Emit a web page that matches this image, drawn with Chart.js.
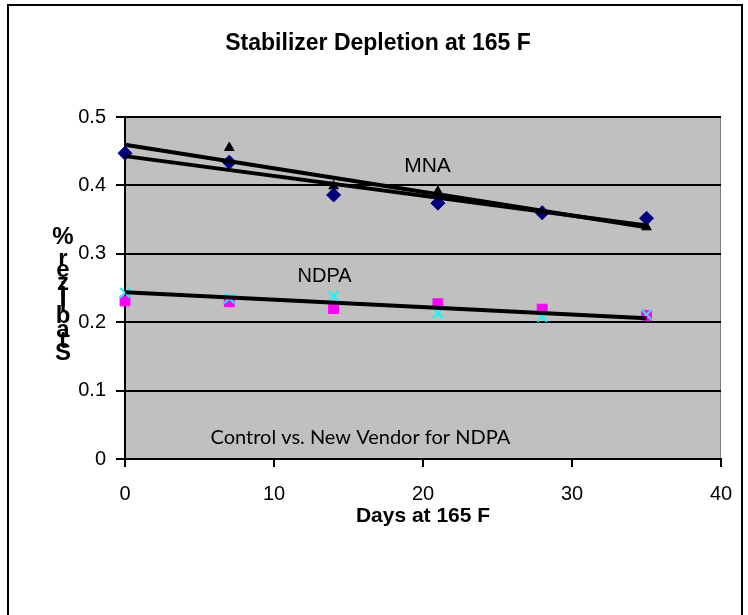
<!DOCTYPE html>
<html>
<head>
<meta charset="utf-8">
<title>Stabilizer Depletion at 165 F</title>
<script src="https://cdn.jsdelivr.net/npm/chart.js@4.4.0/dist/chart.umd.min.js"></script>
<style>
html, body { margin: 0; padding: 0; background: #fff; }
canvas { display: block; }
</style>
</head>
<body>
<canvas id="myChart" width="748" height="615"></canvas>
<script>
// Data
const days = [0, 7, 14, 21, 28, 35];
const mnaControl = [0.450, 0.455, 0.399, 0.391, 0.361, 0.339];   // black triangles
const mnaNew = [0.447, 0.434, 0.386, 0.374, 0.360, 0.352];       // navy diamonds
const ndpaControl = [0.243, 0.235, 0.238, 0.213, 0.208, 0.211];  // cyan crosses
const ndpaNew = [0.231, 0.230, 0.220, 0.227, 0.219, 0.210];      // magenta squares

const titleText = 'Stabilizer Depletion at 165 F';
const xTitle = 'Days at 165 F';
const yTitle = 'Stabilizer %';

// text boxes on the plot (x in days, y in %)
const notes = [
    { text: 'MNA', x: 20.3, y: 0.428, font: '21px "Liberation Sans", Arial, sans-serif' },
    { text: 'NDPA', x: 13.4, y: 0.2675, font: '20px "Liberation Sans", Arial, sans-serif' },
    { text: 'Control vs. New Vendor for NDPA', x: 15.8, y: 0.031, font: '20px Lato, "Liberation Sans", sans-serif' }
];

function toPoints(ys) {
    return days.map((d, i) => ({ x: d, y: ys[i] }));
}

// linear trendline, same as excel's
function trend(ys) {
    const n = days.length;
    let sx = 0, sy = 0, sxx = 0, sxy = 0;
    for (let i = 0; i < n; i++) {
        sx += days[i]; sy += ys[i];
        sxx += days[i] * days[i]; sxy += days[i] * ys[i];
    }
    const b = (n * sxy - sx * sy) / (n * sxx - sx * sx);
    const a = (sy - b * sx) / n;
    const x0 = days[0], x1 = days[n - 1];
    return [{ x: x0, y: a + b * x0 }, { x: x1, y: a + b * x1 }];
}

function trendSet(ys) {
    return {
        data: trend(ys),
        showLine: true,
        borderColor: '#000',
        borderWidth: 4,
        pointRadius: 0,
        clip: false,
        order: 0
    };
}

const plotBg = {
    id: 'plotBg',
    beforeDraw(chart) {
        const ctx = chart.ctx;
        const a = chart.chartArea;
        ctx.save();
        ctx.fillStyle = '#fff';
        ctx.fillRect(0, 0, chart.width, chart.height);
        ctx.lineWidth = 2;
        ctx.strokeStyle = '#000';
        ctx.strokeRect(8, 5, 734, 700);
        ctx.fillStyle = '#c0c0c0';
        ctx.fillRect(a.left, a.top, a.right - a.left, a.bottom - a.top);
        ctx.strokeStyle = '#808080';
        ctx.lineWidth = 1;
        ctx.beginPath();
        ctx.moveTo(a.right - 0.5, a.top);
        ctx.lineTo(a.right - 0.5, a.bottom);
        ctx.stroke();
        ctx.restore();
    }
};

const textBits = {
    id: 'textBits',
    afterDraw(chart) {
        const ctx = chart.ctx;
        const xs = chart.scales.x, ys = chart.scales.y;
        ctx.save();
        ctx.fillStyle = '#000';
        ctx.textAlign = 'center';
        ctx.textBaseline = 'middle';
        notes.forEach((n) => {
            ctx.font = n.font;
            ctx.fillText(n.text, xs.getPixelForValue(n.x), ys.getPixelForValue(n.y));
        });

        // y title: letters stacked upward, not turned
        ctx.font = 'bold 24px "Liberation Sans", Arial, sans-serif';
        let y = 361;
        for (const ch of yTitle) {
            const w = ctx.measureText(ch).width;
            ctx.fillText(ch, 63, y - w / 2);
            y -= w;
        }
        ctx.restore();
    }
};

const ctx = document.getElementById('myChart');

const chart = new Chart(ctx, {
    type: 'scatter',
    data: {
        datasets: [
            trendSet(mnaControl),
            trendSet(mnaNew),
            trendSet(ndpaControl),
            {
                label: 'NDPA control',
                data: toPoints(ndpaControl),
                pointStyle: 'crossRot',
                pointRadius: 7,
                borderColor: '#00ffff',
                backgroundColor: '#00ffff',
                pointBorderWidth: 2,
                clip: false,
                order: 1
            },
            {
                label: 'NDPA new',
                data: toPoints(ndpaNew),
                pointStyle: 'rect',
                pointRadius: 7,
                borderColor: '#ff00ff',
                backgroundColor: '#ff00ff',
                clip: false,
                order: 2
            },
            {
                label: 'MNA new',
                data: toPoints(mnaNew),
                pointStyle: 'rectRot',
                pointRadius: 7,
                borderColor: '#000080',
                backgroundColor: '#000080',
                clip: false,
                order: 3
            },
            {
                label: 'MNA control',
                data: toPoints(mnaControl),
                pointStyle: 'triangle',
                pointRadius: 5.5,
                borderColor: '#000',
                backgroundColor: '#000',
                clip: false,
                order: 4
            }
        ]
    },
    options: {
        responsive: false,
        animation: false,
        layout: {
            padding: { left: 35, right: 27, top: 0, bottom: 86 }
        },
        plugins: {
            legend: { display: false },
            tooltip: { enabled: false },
            title: {
                display: true,
                text: titleText,
                color: '#000',
                font: { family: '"Liberation Sans", Arial, sans-serif', size: 23, weight: 'bold' },
                padding: { top: 30, bottom: 59.4 }
            }
        },
        scales: {
            x: {
                type: 'linear',
                min: 0,
                max: 40,
                ticks: {
                    stepSize: 10,
                    padding: 15,
                    color: '#000',
                    font: { family: '"Liberation Sans", Arial, sans-serif', size: 20 }
                },
                grid: {
                    drawOnChartArea: false,
                    color: '#000',
                    lineWidth: 2,
                    tickLength: 8
                },
                border: { color: '#000', width: 2 },
                title: {
                    display: true,
                    text: xTitle,
                    color: '#000',
                    font: { family: '"Liberation Sans", Arial, sans-serif', size: 21, weight: 'bold' },
                    padding: { top: 0, bottom: 0 }
                },
                afterFit: (scale) => { scale.height = 70; }
            },
            y: {
                min: 0,
                max: 0.5,
                ticks: {
                    stepSize: 0.1,
                    padding: 10,
                    color: '#000',
                    font: { family: '"Liberation Sans", Arial, sans-serif', size: 20 }
                },
                grid: {
                    color: '#000',
                    lineWidth: 2,
                    tickLength: 9
                },
                border: { color: '#000', width: 2 },
                afterFit: (scale) => { scale.width = 90; }
            }
        }
    },
    plugins: [plotBg, textBits]
});
</script>
</body>
</html>
